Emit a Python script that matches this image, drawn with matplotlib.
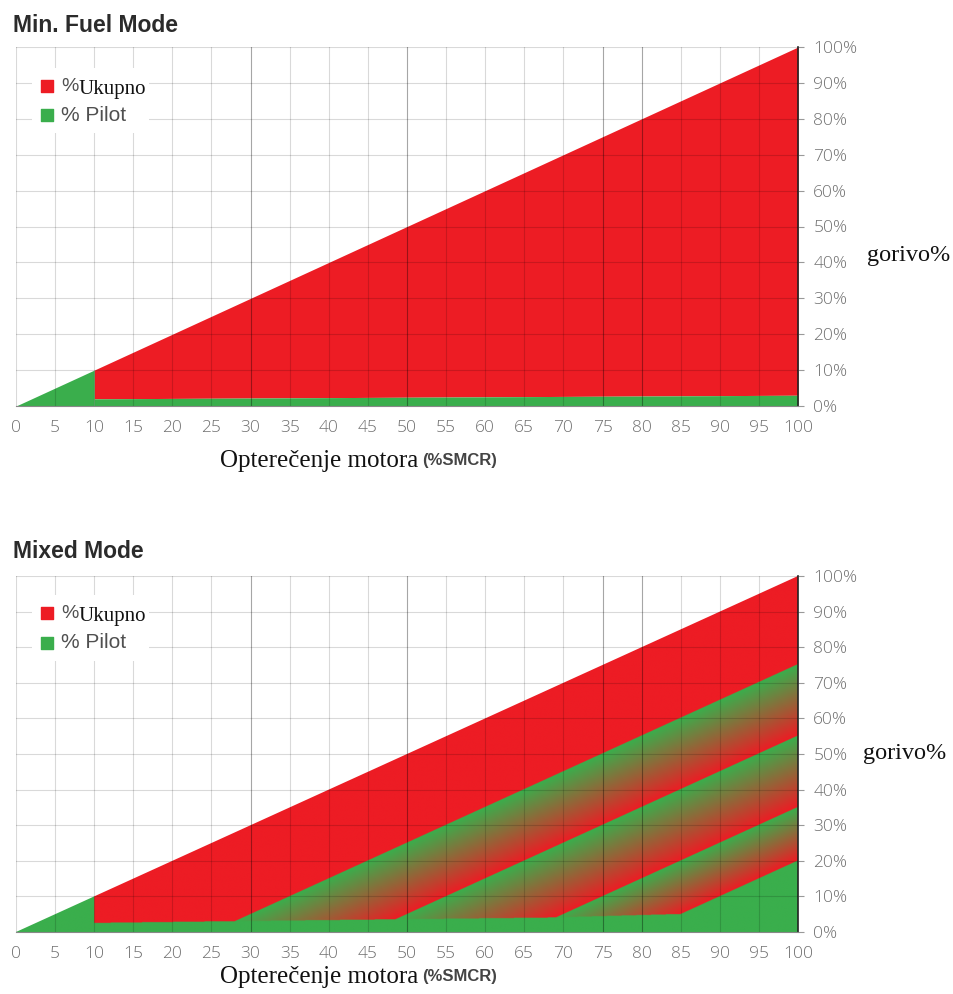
import numpy as np
import matplotlib
matplotlib.use("Agg")
import matplotlib.pyplot as plt
from matplotlib.patches import Polygon, Rectangle

# ---- data ----
load_ticks = list(range(0, 101, 5))
fuel_ticks = list(range(0, 101, 10))
fuel_labels = ["%d%%" % v for v in fuel_ticks]

# total fuel line (% of max) vs engine load (%SMCR)
total_x = [0, 10, 100]
total_y = [0, 10, 100]

# Min. Fuel Mode: pilot share
pilot_x = [0, 10, 10, 100]
pilot_y = [0, 10, 2, 3]

# Mixed Mode: base pilot band and the sloped band edges (value at 100 % load)
base_x = [10, 28, 48, 68, 85, 100]
base_y = [2.5, 3.0, 3.5, 4.0, 5.0, 5.0]
edges_at_full = [75, 55, 35, 20]

RED = np.array([237, 28, 36]) / 255.0
GREEN = np.array([58, 174, 76]) / 255.0
SANS = ["Open Sans", "DejaVu Sans"]
NARROW = ["Liberation Sans Narrow", "Liberation Sans", "DejaVu Sans"]
SERIF = ["Liberation Serif", "DejaVu Serif"]

W, H = 954, 994
fig = plt.figure(figsize=(W / 100, H / 100), dpi=100)


def px_axes(left, right, top, bottom):
    return fig.add_axes([left / W, 1 - bottom / H, (right - left) / W, (bottom - top) / H])


def setup(ax):
    ax.set_xlim(0, 100)
    ax.set_ylim(0, 100)
    ax.yaxis.tick_right()
    ax.set_yticks(fuel_ticks)
    ax.set_yticklabels(fuel_labels)
    ax.set_xticks(load_ticks)
    ax.set_xticklabels([str(v) for v in load_ticks])
    ax.tick_params(axis="x", length=0, pad=10, labelsize=12.5, labelcolor="#707070")
    ax.tick_params(axis="y", length=4, width=0.8, color="#999999", pad=7,
                   labelsize=12.5, labelcolor="#707070")
    for lab in ax.get_xticklabels() + ax.get_yticklabels():
        lab.set_family(SANS)
        lab.set_fontweight("light")
    for s in ["top", "left"]:
        ax.spines[s].set_visible(False)
    ax.spines["right"].set_color("#222222")
    ax.spines["right"].set_linewidth(1.2)
    ax.spines["bottom"].set_color("#888888")
    ax.spines["bottom"].set_linewidth(0.8)
    # grid on top of the fills, faint
    for v in load_ticks[:-1]:
        a = 0.35 if v in (30, 50, 75, 80) else 0.15
        ax.axvline(v, color="black", alpha=a, lw=0.8, zorder=3)
    for v in fuel_ticks[1:]:
        ax.axhline(v, color="black", alpha=0.15, lw=0.8, zorder=3)


def legend(ax, y1, y2):
    ax.add_patch(Rectangle((0.02, y2 - 0.05), 0.15, y1 - y2 + 0.1, transform=ax.transAxes,
                           facecolor="white", edgecolor="none", zorder=4))
    ax.scatter([0.04], [y1], marker="s", s=64, color=RED, transform=ax.transAxes, zorder=5)
    ax.scatter([0.04], [y2], marker="s", s=64, color=GREEN, transform=ax.transAxes, zorder=5)
    t = ax.text(0.058, y1, "%", transform=ax.transAxes, va="center", ha="left",
                fontsize=14, family=NARROW, color="#505050", zorder=5)
    ax.annotate("Ukupno", xy=(1, 0), xycoords=t, xytext=(0, -3), textcoords="offset points",
                va="bottom", ha="left", fontsize=15, family=SERIF, color="#111111", zorder=5)
    ax.text(0.058, y2, "% Pilot", transform=ax.transAxes, va="center", ha="left",
            fontsize=15, family=NARROW, color="#505050", zorder=5)


def xlabel(ax, y_px, x_px=220):
    t = fig.text(x_px / W, 1 - y_px / H, "Opterečenje motora", family=SERIF,
                 fontsize=18, color="#111111", va="baseline", ha="left")
    ax.annotate("(%SMCR)", xy=(1, 0), xycoords=t, xytext=(3, 3),
                textcoords="offset points", va="bottom", ha="left",
                fontsize=12, fontweight="bold", family=NARROW, color="#444444",
                annotation_clip=False)


# ---------------- Min. Fuel Mode ----------------
ax1 = px_axes(16, 798, 47, 406)
setup(ax1)
xs = np.array([10, 100])
ax1.fill_between(xs, np.interp(xs, pilot_x[2:], pilot_y[2:]), np.interp(xs, total_x, total_y),
                 color=RED, lw=0, zorder=1)
ax1.fill_between(pilot_x[:2], 0, pilot_y[:2], color=GREEN, lw=0, zorder=1)
ax1.fill_between(pilot_x[2:], 0, pilot_y[2:], color=GREEN, lw=0, zorder=1)
legend(ax1, 0.891, 0.81)
fig.text(13 / W, 1 - 26 / H, "Min. Fuel Mode", fontsize=16.5, fontweight="bold",
         family=NARROW, color="#2b2b2b", va="center", ha="left")
fig.text(867 / W, 1 - 255 / H, "gorivo%", family=SERIF, fontsize=17.5,
         color="#111111", va="center", ha="left")

# ---------------- Mixed Mode ----------------
ax2 = px_axes(16, 798, 576, 932)
setup(ax2)
n = 900
gx, gy = np.meshgrid(np.linspace(0, 100, n), np.linspace(0, 100, n))
offs = 100 - np.array(edges_at_full, dtype=float)
d = gx - gy
t = np.zeros_like(d)                       # 0 = green, 1 = red
t[d < offs[0]] = 1.0
for i in range(len(offs) - 1):
    m = (d >= offs[i]) & (d < offs[i + 1])
    t[m] = (d[m] - offs[i]) / (offs[i + 1] - offs[i])
t[gy <= np.interp(gx, base_x, base_y)] = 0.0
t[gx < total_x[1]] = 0.0
img = (1 - t)[..., None] * GREEN + t[..., None] * RED
im = ax2.imshow(img, extent=(0, 100, 0, 100), origin="lower", aspect="auto",
                interpolation="bilinear", zorder=1)
clip = Polygon(np.column_stack([total_x + [100], total_y + [0]]), closed=True,
               transform=ax2.transData, facecolor="none", edgecolor="none")
ax2.add_patch(clip)
im.set_clip_path(clip)
legend(ax2, 0.896, 0.812)
fig.text(13 / W, 1 - 551 / H, "Mixed Mode", fontsize=16.5, fontweight="bold",
         family=NARROW, color="#2b2b2b", va="center", ha="left")
fig.text(863 / W, 1 - 753 / H, "gorivo%", family=SERIF, fontsize=17.5,
         color="#111111", va="center", ha="left")

xlabel(ax1, 467)
xlabel(ax2, 983)

fig.savefig("out.png", dpi=100)
